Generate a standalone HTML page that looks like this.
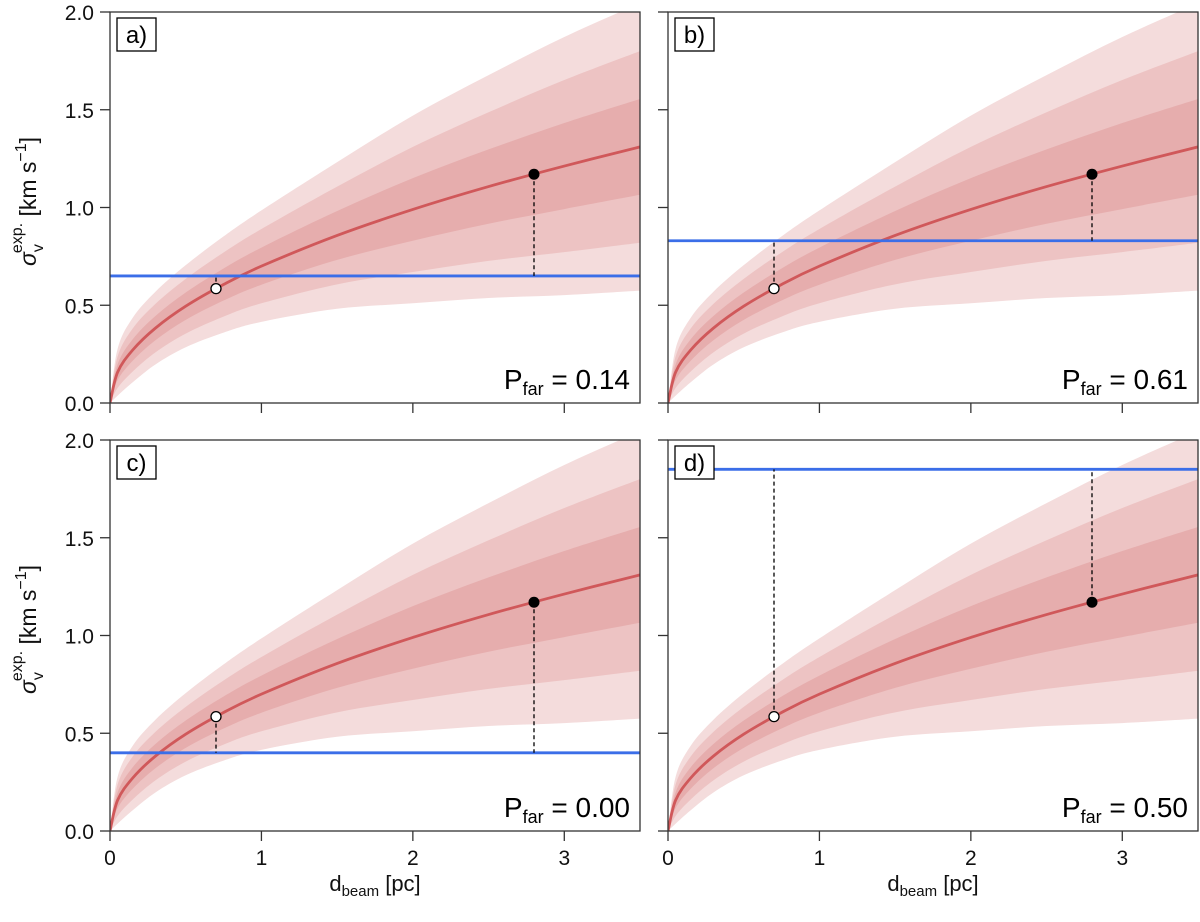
<!DOCTYPE html>
<html><head><meta charset="utf-8">
<style>
html,body{margin:0;padding:0;background:#fff;}
svg{display:block;font-family:"Liberation Sans","DejaVu Sans",sans-serif;}
</style></head>
<body>
<svg id="fig" width="1200" height="922" viewBox="0 0 1200 922"></svg>
<script>
// data
const dSamples=[0,0.05,0.15,0.3,0.5,0.75,1,1.5,2,2.5,3,3.5];
const medianVals=[0,0.157,0.271,0.383,0.495,0.606,0.70,0.857,0.990,1.107,1.212,1.31];
const spreadVals=[0,0.04,0.055,0.062,0.07,0.082,0.095,0.125,0.16,0.19,0.22,0.245];
const panelLabels=["a)","b)","c)","d)"];
const blueLevels=[0.65,0.83,0.40,1.85];
const pFarValues=["0.14","0.61","0.00","0.50"];
const nearPoint=[0.7,0.585];
const farPoint=[2.8,1.17];
const xTicks=[0,1,2,3];
const yTicks=[0,0.5,1.0,1.5,2.0];
const yTickLabels=["0.0","0.5","1.0","1.5","2.0"];

const NS="http://www.w3.org/2000/svg";
const svg=document.getElementById('fig');
function mk(tag,attrs,parent){const e=document.createElementNS(NS,tag);for(const k in attrs)e.setAttribute(k,attrs[k]);(parent||svg).appendChild(e);return e;}
const panels=[{x:110,y:12},{x:668,y:12},{x:110,y:440},{x:668,y:440}];
const W=530,H=391,XMAX=3.5,YMAX=2.0;
const bandColors=["#f4dcdc","#edc3c3","#e6adad"];

function catmull(pts){let d=`M${pts[0][0]},${pts[0][1]}`;for(let i=0;i<pts.length-1;i++){const p0=pts[Math.max(i-1,0)],p1=pts[i],p2=pts[i+1],p3=pts[Math.min(i+2,pts.length-1)];
const c1=[p1[0]+(p2[0]-p0[0])/6,p1[1]+(p2[1]-p0[1])/6],c2=[p2[0]-(p3[0]-p1[0])/6,p2[1]-(p3[1]-p1[1])/6];
d+=` C${c1[0]},${c1[1]} ${c2[0]},${c2[1]} ${p2[0]},${p2[1]}`;}return d;}

panels.forEach((P,i)=>{
  const sx=v=>P.x+v/XMAX*W, sy=v=>P.y+H-v/YMAX*H;
  const g=mk('g',{});
  
  
  const cid='clip'+i;
  const cp=mk('clipPath',{id:cid},g);mk('rect',{x:P.x,y:P.y,width:W,height:H},cp);
  const cg=mk('g',{'clip-path':`url(#${cid})`},g);
  [3,2,1].forEach((k,bi)=>{
    const up=dSamples.map((d,j)=>[sx(d),sy(medianVals[j]+k*spreadVals[j])]);
    const lo=dSamples.map((d,j)=>[sx(d),sy(Math.max(0,medianVals[j]-k*spreadVals[j]))]).reverse();
    const path=catmull(up)+' L'+lo[0][0]+','+lo[0][1]+catmull(lo).replace(/^M[^C]*/,' ')+'Z';
    const b=mk('path',{d:path,fill:bandColors[bi],stroke:'none'},cg);
    
    
  });
  const med=mk('path',{d:catmull(dSamples.map((d,j)=>[sx(d),sy(medianVals[j])])),fill:'none',stroke:'#d0585a','stroke-width':2.8},cg);
  
  
  const bl=blueLevels[i];
  const bline=mk('line',{x1:P.x,x2:P.x+W,y1:sy(bl),y2:sy(bl),stroke:'#3b6ee8','stroke-width':2.8},cg);
  
  
  [nearPoint,farPoint].forEach(pt=>{
    const dl=mk('line',{x1:sx(pt[0]),x2:sx(pt[0]),y1:sy(pt[1]),y2:sy(bl),stroke:'#000','stroke-width':1.3,'stroke-dasharray':'4,3'},cg);
    
    
  });
  const c1=mk('circle',{cx:sx(nearPoint[0]),cy:sy(nearPoint[1]),r:5,fill:'#fff',stroke:'#000','stroke-width':1.3},g);
  
  
  const c2=mk('circle',{cx:sx(farPoint[0]),cy:sy(farPoint[1]),r:5.5,fill:'#000'},g);
  
  
  const fr=mk('rect',{x:P.x,y:P.y,width:W,height:H,fill:'none',stroke:'#333','stroke-width':1.3},g);
  
  
  xTicks.forEach(t=>{mk('line',{x1:sx(t),x2:sx(t),y1:P.y+H,y2:P.y+H+10,stroke:'#333','stroke-width':1.3},g);
    if(i>=2){const tl=mk('text',{x:sx(t),y:P.y+H+34,'text-anchor':'middle','font-size':21,fill:'#111'},g);tl.textContent=String(t);
      }});
  yTicks.forEach((t,ti)=>{mk('line',{x1:P.x-10,x2:P.x,y1:sy(t),y2:sy(t),stroke:'#333','stroke-width':1.3},g);
    if(i%2==0){const tl=mk('text',{x:P.x-16,y:sy(t)+8,'text-anchor':'end','font-size':21,fill:'#111'},g);tl.textContent=yTickLabels[ti];
      }});
  const lb=mk('rect',{x:P.x+7,y:P.y+6,width:39,height:33,fill:'#fff',stroke:'#000','stroke-width':1.3},g);
  
  
  const lt=mk('text',{x:P.x+26.5,y:P.y+31,'text-anchor':'middle','font-size':24,fill:'#000'},g);lt.textContent=panelLabels[i];
  
  const pt=mk('text',{x:P.x+W-10,y:P.y+H-14,'text-anchor':'end','font-size':28,fill:'#000'},g);
  pt.innerHTML='P<tspan font-size="18" dy="6">far</tspan><tspan dy="-6"> = '+pFarValues[i]+'</tspan>';
  
  if(i>=2){const xl=mk('text',{x:P.x+W/2,y:P.y+H+60,'text-anchor':'middle','font-size':22,fill:'#111'},g);
    xl.innerHTML='d<tspan font-size="15" dy="5">beam</tspan><tspan dy="-5"> [pc]</tspan>';
    }
  if(i%2==0){const yl=mk('text',{x:0,y:0,'text-anchor':'middle','font-size':23,fill:'#111',transform:`translate(${P.x-74},${P.y+H/2-6}) rotate(-90)`},g);
    yl.innerHTML='<tspan font-style="italic">σ</tspan><tspan font-size="16" dy="7">v</tspan><tspan font-size="16" dx="-9" dy="-21">exp.</tspan><tspan dy="14"> [km s</tspan><tspan font-size="16" dy="-10">−1</tspan><tspan dy="10">]</tspan>';
    }
});
</script>
</body></html>
